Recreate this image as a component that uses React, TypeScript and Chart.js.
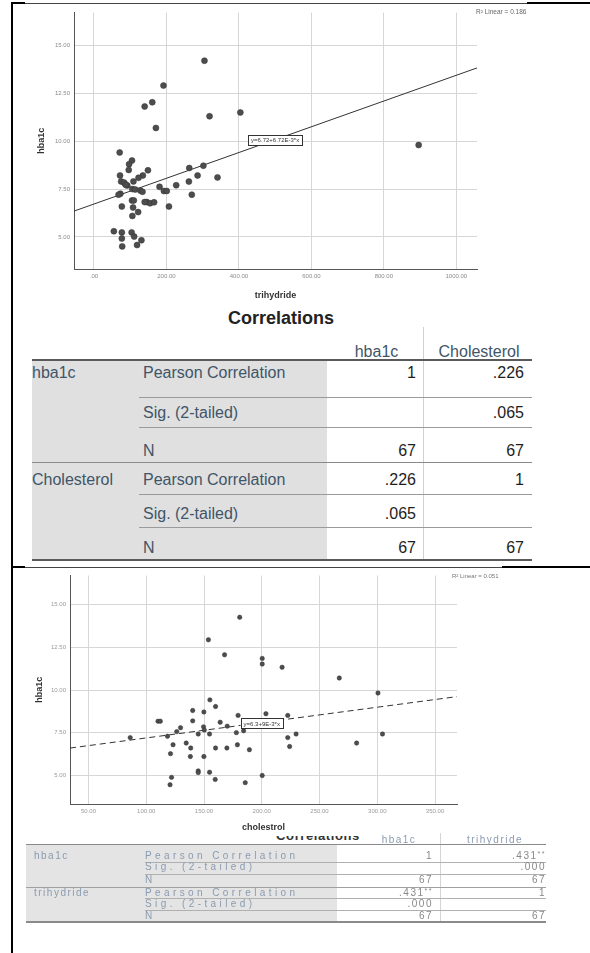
import React, { useEffect, useRef } from "react";
import { Chart, registerables } from "chart.js";

Chart.register(...registerables);

// ---------- DATA ----------
// Chart 1: trihydride vs hba1c
const triX = [305, 192, 140, 161, 319, 404, 171, 896, 71, 105, 97, 96, 149, 72, 135, 123, 109, 75, 87, 92, 263, 302, 286, 341, 262, 227, 181, 193, 201, 106, 114, 128, 134, 73, 68, 270, 146, 155, 166, 105, 110, 77, 108, 122, 207, 106, 55, 77, 104, 111, 77, 131, 119, 78, 83, 88, 140];
const triHb = [14.2, 12.9, 11.81, 12.03, 11.3, 11.5, 10.69, 9.8, 9.41, 8.99, 8.8, 8.5, 8.48, 8.21, 8.21, 8.09, 7.9, 7.9, 7.75, 7.69, 8.6, 8.72, 8.21, 8.11, 7.89, 7.7, 7.62, 7.4, 7.4, 7.5, 7.48, 7.42, 7.36, 7.26, 7.21, 7.21, 6.82, 6.76, 6.81, 6.91, 6.91, 6.59, 6.54, 6.3, 6.59, 6.1, 5.3, 5.24, 5.24, 5.02, 4.92, 4.83, 4.58, 4.51, 7.84, 7.72, 6.82];

// Chart 2: cholestrol vs hba1c
const cholX = [180.9, 153.8, 167.8, 200.4, 200.4, 217.6, 267.1, 300.6, 155.1, 160, 140.2, 149.9, 179.5, 203.6, 222.5, 110.2, 112.2, 140.2, 164, 170.1, 129.7, 149.6, 150.3, 126.4, 145, 154.8, 178, 184.3, 86.1, 118.4, 222.5, 229.7, 304.5, 123.2, 134.6, 138.5, 160, 169.8, 178.9, 189.3, 224.1, 282.1, 121, 138.2, 149.9, 145, 145, 154.8, 200.4, 121.9, 159.7, 120.6, 185.7];
const cholHb = [14.27, 12.95, 12.07, 11.86, 11.53, 11.34, 10.71, 9.83, 9.43, 9.04, 8.81, 8.72, 8.52, 8.62, 8.52, 8.18, 8.18, 8.2, 8.12, 7.89, 7.8, 7.85, 7.66, 7.57, 7.43, 7.43, 7.51, 7.62, 7.22, 7.3, 7.22, 7.43, 7.43, 6.8, 6.9, 6.61, 6.61, 6.61, 6.8, 6.51, 6.7, 6.9, 6.28, 6.11, 6.11, 5.27, 5.17, 5.19, 5.0, 4.89, 4.77, 4.46, 4.58];

const hbTicks = [5, 7.5, 10, 12.5, 15];
const triTicks = [0, 200, 400, 600, 800, 1000];
const cholTicks = [50, 100, 150, 200, 250, 300, 350];

const hbRange = [3.33, 16.71];
const triRange = [-55, 1057];
const cholRange = [34, 369];

// regression: [intercept, slope]
const fitTri = [6.72, 0.00672];
const fitChol = [6.3, 0.009];
const eqTri = "y=6.72+6.72E-3*x";
const eqChol = "y=6.3+9E-3*x";
const eqTriAt = [500, 10.05];
const eqCholAt = [200, 8.05];
const r2Tri = "R² Linear = 0.186";
const r2Chol = "R² Linear = 0.051";

// Tables
const statLabels = ["Pearson Correlation", "Sig. (2-tailed)", "N"];
const t1Vars = ["hba1c", "Cholesterol"];
const t1Col1 = ["1", "", "67", ".226", ".065", "67"];
const t1Col2 = [".226", ".065", "67", "1", "", "67"];
const t2Vars = ["hba1c", "trihydride"];
const t2Col1 = ["1", "", "67", ".431**", ".000", "67"];
const t2Col2 = [".431**", ".000", "67", "1", "", "67"];

const FONT = "'Liberation Sans', Arial, sans-serif";

function fmt(v: number) {
  return v === 0 ? ".00" : v.toFixed(2);
}

type SP = {
  left: number; top: number; width: number; height: number;
  xs: number[]; ys: number[];
  xRange: number[]; yRange: number[];
  xTicks: number[]; yTicks: number[];
  fit: number[]; eq: string; eqAt: number[];
  xTitle: string; dash: number[]; radius: number;
  yAxisW: number; xAxisH: number; padTop: number; padRight: number;
  yTitlePad: number; xTitlePad: number; tickColor: string;
};

function Scatter(p: SP) {
  const ref = useRef<HTMLCanvasElement | null>(null);
  useEffect(() => {
    if (!ref.current) return;
    const [a, b] = p.fit;
    const eqPlugin = {
      id: "eqbox",
      afterDatasetsDraw(chart: any) {
        const { ctx, scales } = chart;
        const px = scales.x.getPixelForValue(p.eqAt[0]);
        const py = scales.y.getPixelForValue(p.eqAt[1]);
        ctx.save();
        ctx.font = "6px " + FONT;
        const w = ctx.measureText(p.eq).width + 6;
        const h = 10;
        ctx.fillStyle = "#fff";
        ctx.fillRect(px - w / 2, py - h / 2, w, h);
        ctx.strokeStyle = "#333";
        ctx.lineWidth = 1;
        ctx.strokeRect(Math.round(px - w / 2) + 0.5, Math.round(py - h / 2) + 0.5, Math.round(w), h);
        ctx.fillStyle = "#333";
        ctx.textAlign = "center";
        ctx.textBaseline = "middle";
        ctx.fillText(p.eq, px, py + 0.5);
        ctx.restore();
      },
    };
    const chart = new Chart(ref.current, {
      type: "scatter",
      data: {
        datasets: [
          {
            type: "scatter",
            data: p.xs.map((x, i) => ({ x, y: p.ys[i] })),
            pointRadius: p.radius,
            backgroundColor: "#4d4d4d",
            borderColor: "#333",
            borderWidth: 0.5,
          },
          {
            type: "line",
            data: [
              { x: p.xRange[0], y: a + b * p.xRange[0] },
              { x: p.xRange[1], y: a + b * p.xRange[1] },
            ],
            borderColor: "#333",
            borderWidth: 1,
            borderDash: p.dash,
            pointRadius: 0,
            fill: false,
          } as any,
        ],
      },
      options: {
        responsive: false,
        animation: false,
        devicePixelRatio: 1,
        layout: { padding: { top: p.padTop, right: p.padRight, left: 0, bottom: 0 } },
        plugins: { legend: { display: false }, tooltip: { enabled: false } },
        scales: {
          x: {
            type: "linear",
            min: p.xRange[0],
            max: p.xRange[1],
            afterBuildTicks: (s: any) => { s.ticks = p.xTicks.map((v) => ({ value: v })); },
            afterFit: (s: any) => { s.height = p.xAxisH; },
            grid: { color: "#d6d6d6", drawTicks: false, lineWidth: 1 },
            border: { color: "#555", width: 1 },
            ticks: {
              font: { size: 6, family: FONT },
              color: p.tickColor,
              padding: 4,
              maxRotation: 0,
              autoSkip: false,
              callback: (v: any) => fmt(Number(v)),
            },
            title: {
              display: true,
              text: p.xTitle,
              font: { size: 9, weight: "bold", family: FONT },
              color: "#333",
              padding: { top: 0, bottom: p.xTitlePad },
            },
          },
          y: {
            type: "linear",
            min: p.yRange[0],
            max: p.yRange[1],
            afterBuildTicks: (s: any) => { s.ticks = p.yTicks.map((v) => ({ value: v })); },
            afterFit: (s: any) => { s.width = p.yAxisW; },
            grid: { color: "#d6d6d6", drawTicks: false, lineWidth: 1 },
            border: { color: "#555", width: 1 },
            ticks: {
              font: { size: 6, family: FONT },
              color: p.tickColor,
              padding: 4,
              autoSkip: false,
              callback: (v: any) => fmt(Number(v)),
            },
            title: {
              display: true,
              text: "hba1c",
              font: { size: 9, weight: "bold", family: FONT },
              color: "#333",
              padding: { top: p.yTitlePad, bottom: 0 },
            },
          },
        },
      } as any,
      plugins: [eqPlugin],
    });
    return () => chart.destroy();
  }, []);
  return (
    <canvas
      ref={ref}
      width={p.width}
      height={p.height}
      style={{ position: "absolute", left: p.left, top: p.top, width: p.width, height: p.height, display: "block" }}
    />
  );
}

type TP = {
  x: number; y: number; text: React.ReactNode; align?: "left" | "right" | "center";
  size: number; color: string; weight?: any; ls?: number;
};
function T({ x, y, text, align = "left", size, color, weight = "normal", ls = 0 }: TP) {
  const st: any = {
    position: "absolute",
    top: y - 10,
    height: 20,
    lineHeight: "20px",
    fontSize: size,
    color,
    fontWeight: weight,
    letterSpacing: ls,
    whiteSpace: "nowrap",
    fontFamily: FONT,
  };
  if (align === "left") st.left = x;
  if (align === "right") { st.right = 590 - x; st.textAlign = "right"; }
  if (align === "center") { st.left = x; st.transform = "translateX(-50%)"; }
  return <div style={st}>{text}</div>;
}

function Box({ x, y, w, h, c }: { x: number; y: number; w: number; h: number; c: string }) {
  return <div style={{ position: "absolute", left: x, top: y, width: w, height: h, background: c }} />;
}

function withStars(s: string, sz: number) {
  if (s.endsWith("**")) {
    return (
      <span>
        {s.slice(0, -2)}
        <span style={{ fontSize: sz, position: "relative", top: -3 }}>**</span>
      </span>
    );
  }
  return s;
}

export default function App() {
  useEffect(() => {
    document.body.style.margin = "0";
  }, []);

  const rows1 = [373, 413, 451, 480, 514, 548];
  const rows2 = [856, 867, 880, 892.7, 904, 916];
  const c1 = "#3f5568";
  const c2 = "#8a9bb0";

  return (
    <div style={{ position: "absolute", left: 0, top: 0, width: 590, height: 953, background: "#fff", overflow: "hidden", fontFamily: FONT }}>
      {/* frame */}
      <Box x={11} y={2} w={2} h={951} c="#000" />
      <Box x={11} y={2} w={14} h={2} c="#000" />
      <Box x={25} y={3} w={502} h={1} c="#444" />
      <Box x={527} y={2} w={63} h={2} c="#000" />
      <Box x={11} y={566} w={14} h={2} c="#000" />
      <Box x={25} y={567} w={477} h={1} c="#444" />
      <Box x={502} y={566} w={88} h={2} c="#000" />

      {/* Chart 1 */}
      <Scatter
        left={25} top={5} width={502} height={300}
        xs={triX} ys={triHb} xRange={triRange} yRange={hbRange}
        xTicks={triTicks} yTicks={hbTicks} fit={fitTri} eq={eqTri} eqAt={eqTriAt}
        xTitle="trihydride" dash={[]} radius={3}
        yAxisW={49} xAxisH={36} padTop={0} padRight={50} yTitlePad={11} xTitlePad={4}
        tickColor="#8a8a8a"
      />
      <T x={476} y={12} text={r2Tri} size={6.5} color="#666" />

      {/* Table 1 */}
      <T x={281} y={318} text="Correlations" align="center" size={18} color="#222" weight="bold" />
      <Box x={32} y={361} w={295} h={199} c="#e0e0e0" />
      <Box x={423} y={327} w={1} h={233} c="#d0d0d0" />
      <Box x={32} y={359} w={500} h={2} c="#5a5a5a" />
      <Box x={139} y={397} w={393} h={1} c="#9a9a9a" />
      <Box x={139} y={427} w={393} h={1} c="#9a9a9a" />
      <Box x={32} y={462} w={500} h={1} c="#8a8a8a" />
      <Box x={139} y={494} w={393} h={1} c="#9a9a9a" />
      <Box x={139} y={527} w={393} h={1} c="#9a9a9a" />
      <Box x={32} y={559} w={500} h={2} c="#5a5a5a" />
      <T x={376.5} y={352} text={t1Vars[0]} align="center" size={16} color={c1} />
      <T x={479} y={352} text={t1Vars[1]} align="center" size={16} color={c1} />
      <T x={32} y={rows1[0]} text={t1Vars[0]} size={16} color={c1} />
      <T x={32} y={rows1[3]} text={t1Vars[1]} size={16} color={c1} />
      {rows1.map((y, i) => (
        <React.Fragment key={"r1" + i}>
          <T x={143} y={y} text={statLabels[i % 3]} size={16} color={c1} />
          <T x={416} y={y} text={t1Col1[i]} align="right" size={16} color="#1e1e1e" />
          <T x={524} y={y} text={t1Col2[i]} align="right" size={16} color="#1e1e1e" />
        </React.Fragment>
      ))}

      {/* Chart 2 */}
      <Scatter
        left={25} top={568} width={477} height={268}
        xs={cholX} ys={cholHb} xRange={cholRange} yRange={hbRange}
        xTicks={cholTicks} yTicks={hbTicks} fit={fitChol} eq={eqChol} eqAt={eqCholAt}
        xTitle="cholestrol" dash={[6, 4]} radius={2.2}
        yAxisW={45} xAxisH={32} padTop={3} padRight={45} yTitlePad={9} xTitlePad={3}
        tickColor="#9a9a9a"
      />
      <T x={452} y={576} text={r2Chol} size={6} color="#777" />

      {/* Table 2 */}
      <div style={{ position: "absolute", left: 0, top: 836, width: 590, height: 8, overflow: "hidden" }}>
        <div style={{ position: "absolute", left: 318, top: -7, transform: "translateX(-50%)", fontSize: 13, fontWeight: "bold", letterSpacing: 0.6, color: "#333", lineHeight: "14px", whiteSpace: "nowrap", fontFamily: FONT }}>
          Correlations
        </div>
      </div>
      <Box x={26} y={845} w={311} h={76} c="#e4e4e4" />
      <Box x={440} y={833} w={1} h={88} c="#d4d4d4" />
      <Box x={26} y={843.5} w={520} h={1.5} c="#8a8a8a" />
      <Box x={145} y={861.5} w={401} h={1} c="#b0b0b0" />
      <Box x={145} y={874} w={401} h={1} c="#b0b0b0" />
      <Box x={26} y={886.5} w={520} h={1} c="#a0a0a0" />
      <Box x={145} y={898} w={401} h={1} c="#b0b0b0" />
      <Box x={145} y={910} w={401} h={1} c="#b0b0b0" />
      <Box x={26} y={921} w={520} h={1.5} c="#8a8a8a" />
      <T x={399} y={840} text={t2Vars[0]} align="center" size={10} color={c2} ls={1.5} />
      <T x={495} y={840} text={t2Vars[1]} align="center" size={10} color={c2} ls={1.5} />
      <T x={34} y={rows2[0]} text={t2Vars[0]} size={10} color={c2} ls={1.5} />
      <T x={34} y={rows2[3]} text={t2Vars[1]} size={10} color={c2} ls={1.5} />
      {rows2.map((y, i) => (
        <React.Fragment key={"r2" + i}>
          <T x={145} y={y} text={statLabels[i % 3]} size={10} color={c2} ls={3.4} />
          <T x={433} y={y} text={withStars(t2Col1[i], 7)} align="right" size={10} color="#888" ls={1.5} />
          <T x={546} y={y} text={withStars(t2Col2[i], 7)} align="right" size={10} color="#888" ls={1.5} />
        </React.Fragment>
      ))}
    </div>
  );
}
